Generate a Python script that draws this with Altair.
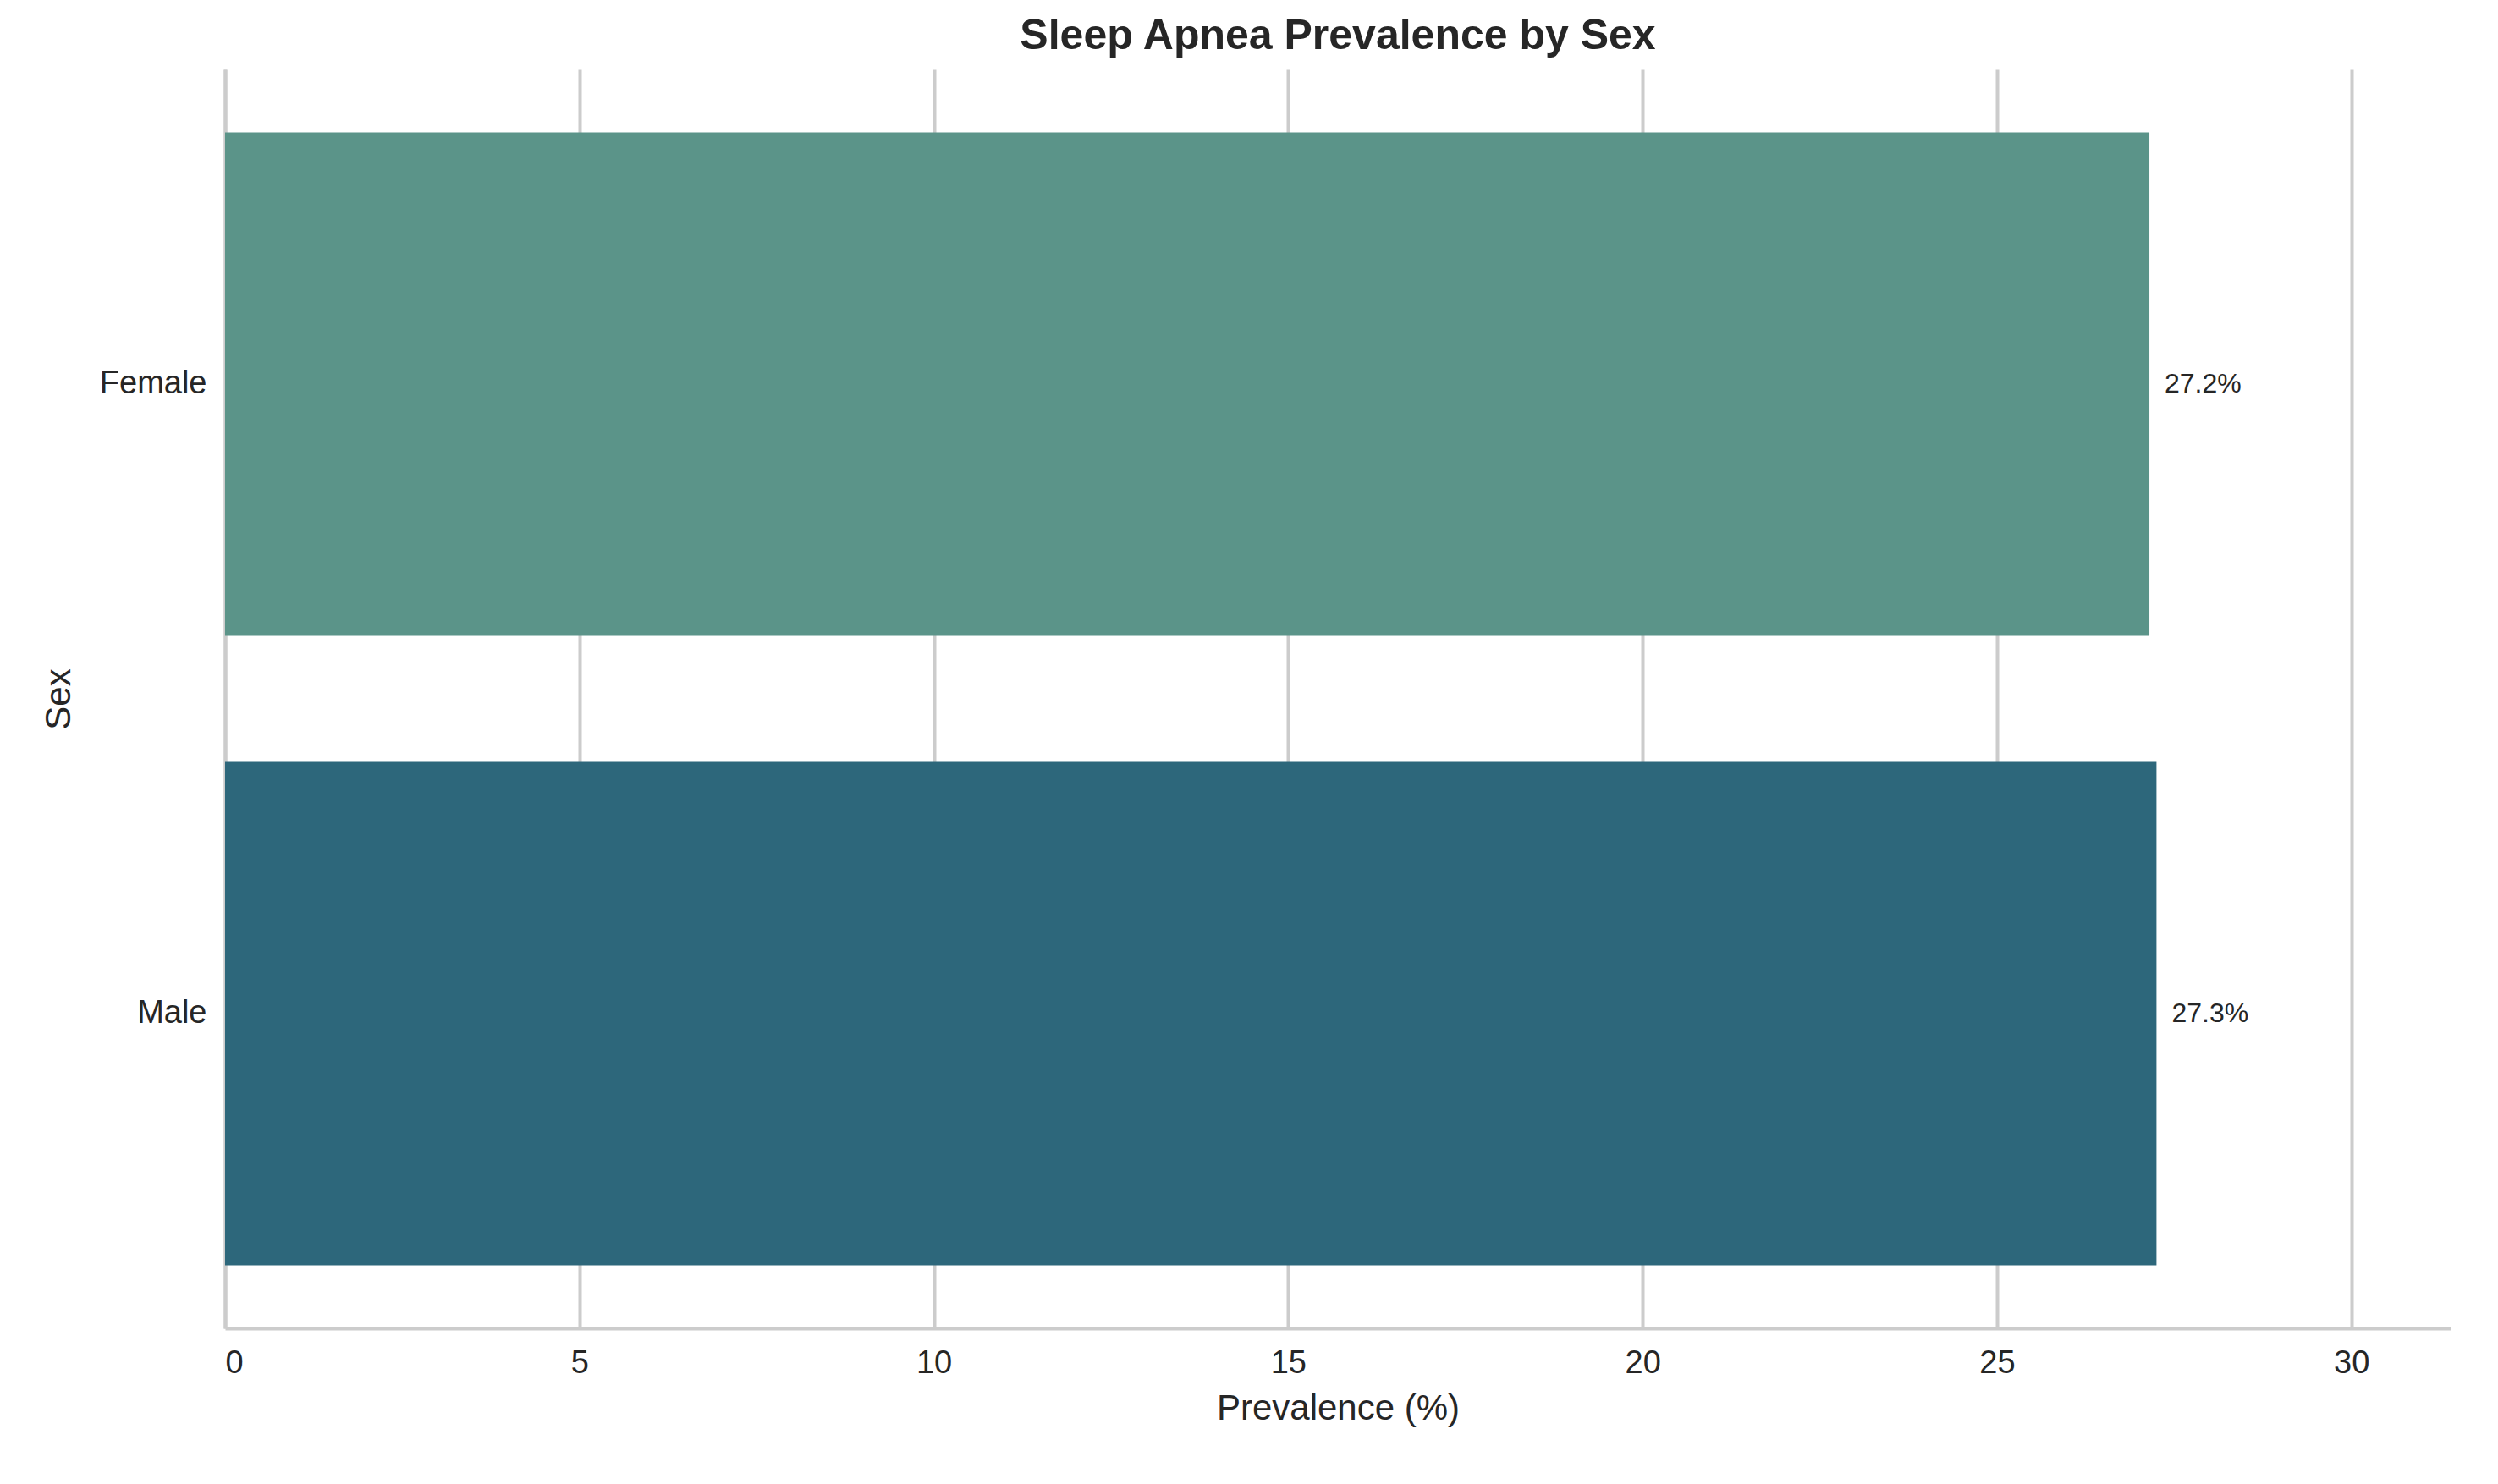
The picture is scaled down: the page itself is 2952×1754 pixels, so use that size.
import altair as alt
import pandas as pd

sexes = ["Female", "Male"]
prevalence = [27.15, 27.25]
labels = ["27.2%", "27.3%"]
colors = ["#5b9489", "#2d677b"]

df = pd.DataFrame({"Sex": sexes, "Prevalence": prevalence, "Label": labels})

base = alt.Chart(df)
bars = base.mark_bar().encode(
    y=alt.Y("Sex:N", sort=sexes, scale=alt.Scale(paddingInner=0.2, paddingOuter=0.1),
            axis=alt.Axis(title="Sex", labelFontSize=38, titleFontSize=42, ticks=False,
                          domainColor="#cccccc", domainWidth=4, labelPadding=22, titlePadding=26,
                          grid=False, labelColor="#262626", titleColor="#262626", titleFontWeight="normal")),
    x=alt.X("Prevalence:Q", scale=alt.Scale(domain=[0, 31.4], nice=False),
            axis=alt.Axis(title="Prevalence (%)", values=[0, 5, 10, 15, 20, 25, 30], format="d",
                          labelFontSize=38, titleFontSize=42, ticks=False, domainColor="#cccccc",
                          domainWidth=4, gridColor="#cccccc", gridWidth=4, labelPadding=22,
                          titlePadding=14, labelColor="#262626", titleColor="#262626",
                          titleFontWeight="normal")),
    color=alt.Color("Sex:N", scale=alt.Scale(domain=sexes, range=colors), legend=None),
)
text = base.mark_text(align="left", dx=18, fontSize=32, color="#262626").encode(
    y=alt.Y("Sex:N", sort=sexes), x="Prevalence:Q", text="Label:N")

chart = (bars + text).properties(
    width=2630, height=1488,
    padding={"left": 40, "top": 10, "right": 10, "bottom": 10},
    title=alt.TitleParams("Sleep Apnea Prevalence by Sex", fontSize=50, fontWeight="bold",
                          color="#262626", offset=14, font="Liberation Sans"),
).configure(font="Liberation Sans").configure_view(strokeWidth=0, stroke="transparent")

chart.save("out.html", embed_options={"renderer": "svg", "actions": False})
